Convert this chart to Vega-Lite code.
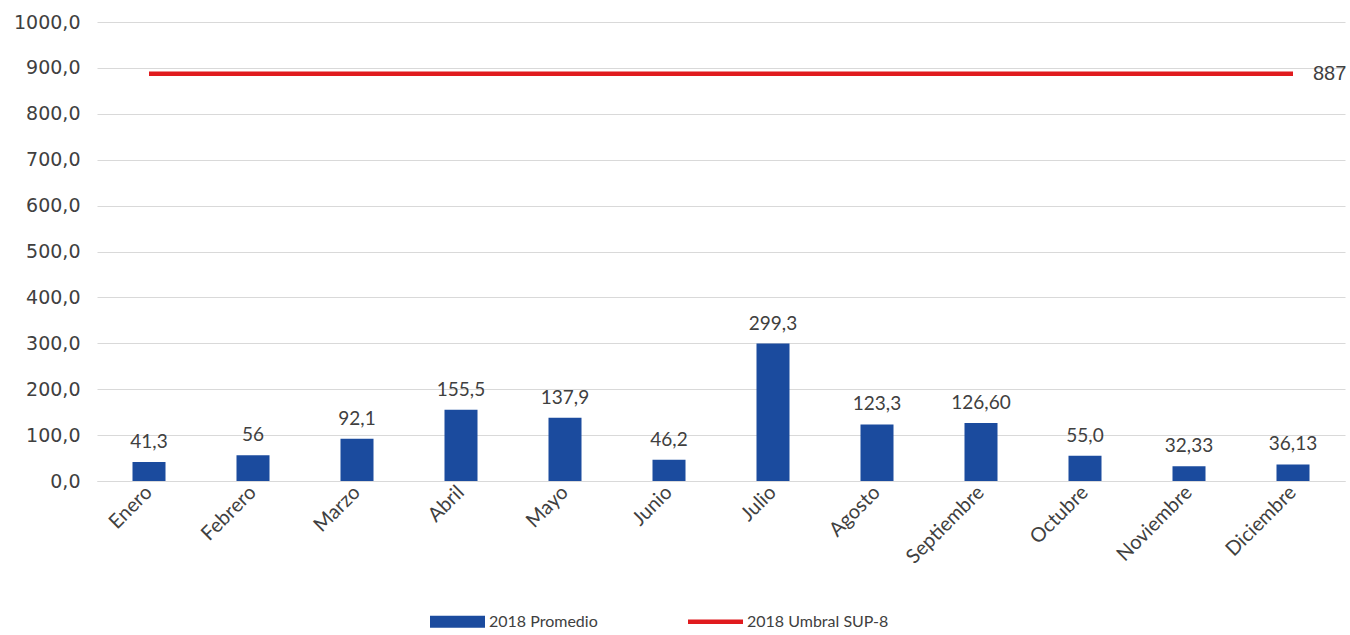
{
  "$schema": "https://vega.github.io/schema/vega-lite/v6.json",
  "autosize": {"type": "none"},
  "width": 1248,
  "height": 459,
  "padding": {"left": 97, "top": 22, "right": 5, "bottom": 154},
  "background": "white",
  "config": {
    "view": {"stroke": null},
    "font": "Lato",
    "axis": {"labelFont": "Lato", "labelColor": "#404040", "labelFontSize": 15}
  },
  "data": {
    "values": [
      {"mes": "Enero", "promedio": 41.3, "etiqueta": "41,3", "umbral": 887},
      {"mes": "Febrero", "promedio": 56, "etiqueta": "56", "umbral": 887},
      {"mes": "Marzo", "promedio": 92.1, "etiqueta": "92,1", "umbral": 887},
      {"mes": "Abril", "promedio": 155.5, "etiqueta": "155,5", "umbral": 887},
      {"mes": "Mayo", "promedio": 137.9, "etiqueta": "137,9", "umbral": 887},
      {"mes": "Junio", "promedio": 46.2, "etiqueta": "46,2", "umbral": 887},
      {"mes": "Julio", "promedio": 299.3, "etiqueta": "299,3", "umbral": 887},
      {"mes": "Agosto", "promedio": 123.3, "etiqueta": "123,3", "umbral": 887},
      {"mes": "Septiembre", "promedio": 126.6, "etiqueta": "126,60", "umbral": 887},
      {"mes": "Octubre", "promedio": 55.0, "etiqueta": "55,0", "umbral": 887},
      {"mes": "Noviembre", "promedio": 32.33, "etiqueta": "32,33", "umbral": 887},
      {"mes": "Diciembre", "promedio": 36.13, "etiqueta": "36,13", "umbral": 887}
    ]
  },
  "encoding": {
    "x": {
      "field": "mes",
      "type": "nominal",
      "sort": null,
      "scale": {"paddingInner": 0, "paddingOuter": 0},
      "axis": {
        "title": null,
        "labelAngle": -45,
        "labelAlign": "right",
        "labelBaseline": "middle",
        "labelPadding": 8,
        "ticks": false,
        "domain": true,
        "domainColor": "#d9d9d9",
        "labelFontSize": 20
      }
    }
  },
  "layer": [
    {
      "mark": {"type": "bar", "size": 33},
      "encoding": {
        "y": {
          "field": "promedio",
          "type": "quantitative",
          "scale": {"domain": [0, 1000]},
          "axis": {
            "title": null,
            "values": [0, 100, 200, 300, 400, 500, 600, 700, 800, 900, 1000],
            "labelExpr": "replace(format(datum.value, '.1f'), '.', ',')",
            "labelFont": "DejaVu Sans",
            "labelFontSize": 19,
            "domain": false,
            "ticks": false,
            "grid": true,
            "gridColor": "#d9d9d9",
            "labelPadding": 17
          }
        },
        "color": {
          "datum": "2018 Promedio",
          "type": "nominal",
          "scale": {"domain": ["2018 Promedio", "2018 Umbral SUP-8"], "range": ["#1b4b9e", "#e01b1e"]},
          "legend": {
            "title": null,
            "orient": "none",
            "direction": "horizontal",
            "legendX": 333,
            "legendY": 572,
            "symbolSize": 3025,
            "symbolType": "M-1,-0.22H1V0.22H-1Z",
            "symbolStrokeWidth": 0,
            "labelFontSize": 16,
            "labelColor": "#404040",
            "labelFont": "Lato",
            "labelOffset": 4,
            "columnPadding": 90,
            "encode": {
              "symbols": {
                "update": {
                  "shape": {"signal": "datum.value === '2018 Promedio' ? 'M-1,-0.22H1V0.22H-1Z' : 'M-1,-0.08H1V0.08H-1Z'"}
                }
              }
            }
          }
        }
      }
    },
    {
      "mark": {"type": "text", "baseline": "bottom", "dy": -10, "fontSize": 19, "color": "#404040", "font": "Lato"},
      "encoding": {
        "y": {"field": "promedio", "type": "quantitative"},
        "text": {"field": "etiqueta"}
      }
    },
    {
      "mark": {"type": "line", "strokeWidth": 4.5},
      "encoding": {
        "y": {"field": "umbral", "type": "quantitative"},
        "color": {"datum": "2018 Umbral SUP-8", "type": "nominal"}
      }
    },
    {
      "transform": [{"filter": "datum.mes === 'Diciembre'"}],
      "mark": {"type": "text", "align": "left", "baseline": "middle", "dx": 20, "fontSize": 20, "color": "#404040", "font": "Liberation Sans"},
      "encoding": {
        "y": {"field": "umbral", "type": "quantitative"},
        "text": {"field": "umbral", "type": "quantitative"}
      }
    }
  ]
}
